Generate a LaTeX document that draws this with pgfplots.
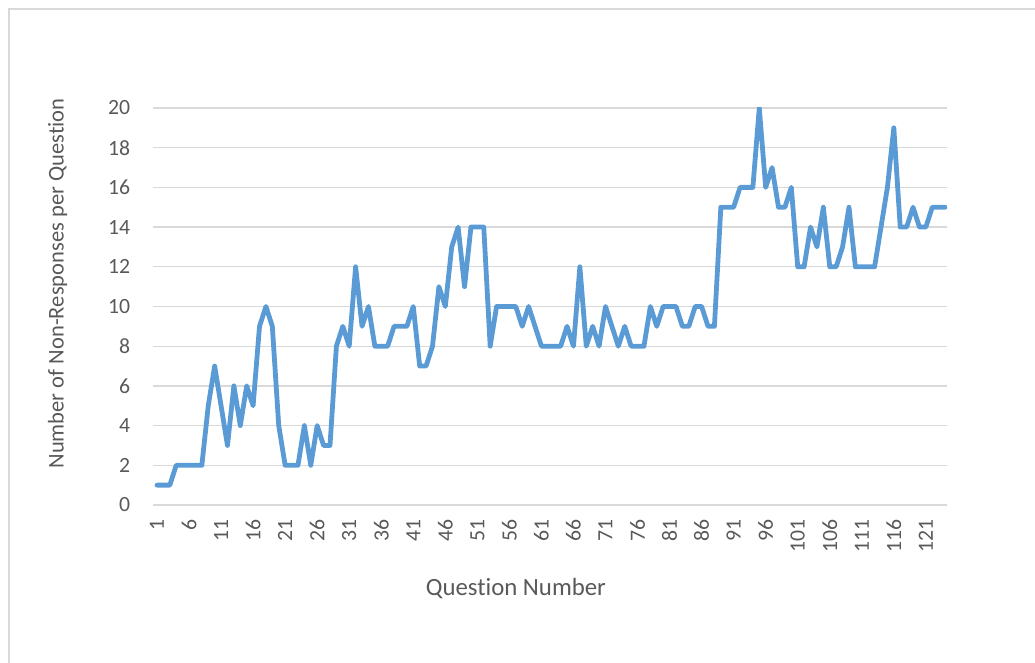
\documentclass[border=0pt]{standalone}
\usepackage{fontspec}
\setmainfont{Carlito}[Ligatures=NoCommon]
\usepackage{pgfplots}
\pgfplotsset{compat=1.18}
\usepackage{pgfplotstable}

\definecolor{linecol}{HTML}{5B9BD5}
\definecolor{txtcol}{HTML}{595959}
\definecolor{gridcol}{HTML}{D9D9D9}

% non-responses per question
\pgfplotstableread{
q n
1 1
2 1
3 1
4 2
5 2
6 2
7 2
8 2
9 5
10 7
11 5
12 3
13 6
14 4
15 6
16 5
17 9
18 10
19 9
20 4
21 2
22 2
23 2
24 4
25 2
26 4
27 3
28 3
29 8
30 9
31 8
32 12
33 9
34 10
35 8
36 8
37 8
38 9
39 9
40 9
41 10
42 7
43 7
44 8
45 11
46 10
47 13
48 14
49 11
50 14
51 14
52 14
53 8
54 10
55 10
56 10
57 10
58 9
59 10
60 9
61 8
62 8
63 8
64 8
65 9
66 8
67 12
68 8
69 9
70 8
71 10
72 9
73 8
74 9
75 8
76 8
77 8
78 10
79 9
80 10
81 10
82 10
83 9
84 9
85 10
86 10
87 9
88 9
89 15
90 15
91 15
92 16
93 16
94 16
95 20
96 16
97 17
98 15
99 15
100 16
101 12
102 12
103 14
104 13
105 15
106 12
107 12
108 13
109 15
110 12
111 12
112 12
113 12
114 14
115 16
116 19
117 14
118 14
119 15
120 14
121 14
122 15
123 15
124 15
}\nonresp

\begin{document}
\begin{tikzpicture}
\useasboundingbox (0pt,0pt) rectangle (776.25pt,497.25pt);
\draw[gridcol, line width=0.8pt] (6.75pt,-20pt) -- (6.75pt,490.5pt) -- (800pt,490.5pt);
\begin{axis}[
    at={(114.75pt,118.5pt)}, anchor=south west,
    width=595.5pt, height=297.75pt,
    scale only axis,
    xmin=0.376, xmax=124.3,
    ymin=0, ymax=20,
    axis line style={draw=none},
    ymajorgrids,
    grid style={gridcol, line width=1pt},
    major tick length=0pt,
    xtick={1,6,...,121},
    ytick={0,2,...,20},
    /pgf/number format/assume math mode=true,
    ticklabel style={font=\fontsize{16.3}{18}\selectfont, text=txtcol},
    xticklabel style={yshift=-10.5pt, rotate=90, anchor=east, inner sep=0pt},
    yticklabel style={anchor=east, inner sep=0pt, xshift=-17pt},
    xlabel={Question Number},
    xlabel style={font=\fontsize{18.6}{20}\selectfont, text=txtcol,
        at={(axis description cs:0.457,-0.229)}, anchor=base},
    ylabel={Number of Non-Responses per Question},
    ylabel style={font=\fontsize{16.9}{19}\selectfont, text=txtcol,
        at={(axis description cs:-0.1127,0.558)}, anchor=base},
]
\addplot[linecol, line width=3.6pt, line join=round, line cap=round] table[x=q, y=n] {\nonresp};
\end{axis}
\end{tikzpicture}
\end{document}
